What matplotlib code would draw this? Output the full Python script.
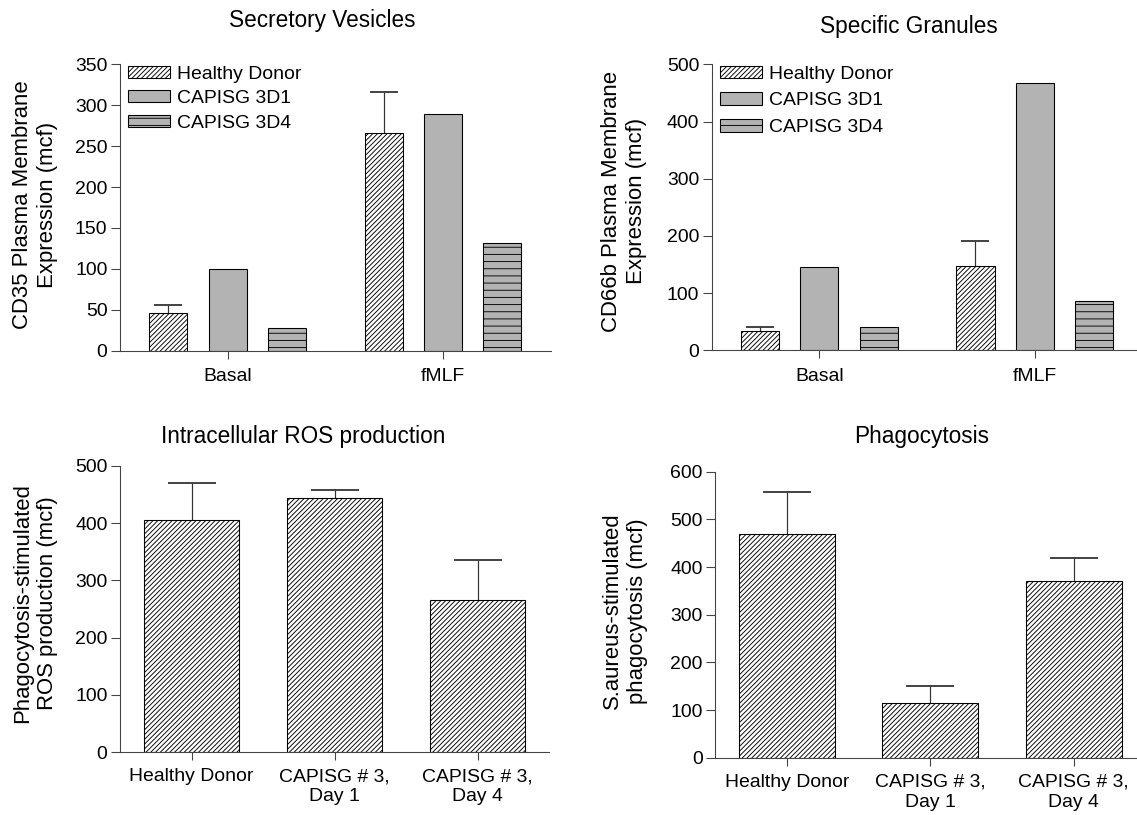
import numpy as np
import matplotlib
matplotlib.use("Agg")
import matplotlib.pyplot as plt

# ---------------- data ----------------
groups_top = ["Basal", "fMLF"]
series_top = ["Healthy Donor", "CAPISG 3D1", "CAPISG 3D4"]

sv_hd = [46, 266]
sv_hd_err = [9.5, 50]
sv_3d1 = [100, 289]
sv_3d4 = [28, 132]

sg_hd = [34, 148]
sg_hd_err = [7.5, 43.5]
sg_3d1 = [146, 468]
sg_3d4 = [40, 87]

groups_bottom = ["Healthy Donor", "CAPISG # 3,\nDay 1", "CAPISG # 3,\nDay 4"]
ros = [406, 444, 265]
ros_err = [63, 13, 71]
phago = [469, 114, 371]
phago_err = [88, 37, 47]

# ---------------- style ----------------
DPI = 86.4
W, H = 1137, 815
plt.rcParams['font.family'] = ['Liberation Sans', 'DejaVu Sans']
plt.rcParams['hatch.linewidth'] = 0.75
GRAY = '#b3b3b3'
SPINE = '#444444'
TICK_FS = 16.2
TITLE_FS = 18.9
YLAB_FS = 18.4

fig = plt.figure(figsize=(W / DPI, H / DPI), dpi=DPI)


def px_axes(left, right, top, bottom):
    return fig.add_axes([left / W, 1 - bottom / H, (right - left) / W, (bottom - top) / H])


def style(ax):
    for s in ['top', 'right']:
        ax.spines[s].set_visible(False)
    for s in ['left', 'bottom']:
        ax.spines[s].set_color(SPINE)
        ax.spines[s].set_linewidth(0.9)
    ax.tick_params(axis='both', direction='out', colors=SPINE, labelcolor='black',
                   labelsize=TICK_FS, width=0.9)
    ax.tick_params(axis='y', length=7.5, pad=3)
    ax.tick_params(axis='x', length=6.5, pad=8)


def err_up(ax, x, y, e, capsize):
    y = np.asarray(y, float)
    e = np.asarray(e, float)
    cont = ax.errorbar(x, y, yerr=[np.zeros_like(e), e], fmt='none', ecolor='#333333',
                       elinewidth=1.0, capsize=capsize, capthick=1.5, zorder=1)
    for cl in cont[1]:
        if np.allclose(cl.get_ydata(), y):
            cl.set_visible(False)


def fig_text(xpx, ypx, s, **kw):
    fig.text(xpx / W, 1 - ypx / H, s, ha='center', va='center', **kw)


def top_panel(ax, hd, hd_err, d1, d4, ymax, step, title, tpos, ylabel, ypos, legend_sp):
    x = np.arange(len(groups_top))
    off, bw = 0.275, 0.177
    ax.bar(x - off, hd, bw, color='white', edgecolor='black', hatch='//////',
           linewidth=0.9, label=series_top[0], zorder=2)
    ax.bar(x, d1, bw, color=GRAY, edgecolor='black', linewidth=0.9,
           label=series_top[1], zorder=2)
    ax.bar(x + off, d4, bw, color=GRAY, edgecolor='black', hatch='--',
           linewidth=0.9, label=series_top[2], zorder=2)
    err_up(ax, x - off, hd, hd_err, 12)
    ax.set_xlim(-0.5, 1.5)
    ax.set_ylim(0, ymax)
    ax.set_yticks(np.arange(0, ymax + 1, step))
    ax.set_xticks(x)
    ax.set_xticklabels(groups_top)
    style(ax)
    ax.legend(loc='upper left', bbox_to_anchor=(0.019, 0.995), frameon=False,
              fontsize=TICK_FS, handlelength=2.15, handleheight=0.6,
              handletextpad=0.36, labelspacing=legend_sp, borderpad=0,
              borderaxespad=0)
    fig_text(tpos[0], tpos[1], title, fontsize=TITLE_FS)
    fig_text(ypos[0], ypos[1], ylabel, fontsize=YLAB_FS, rotation=90,
             multialignment='center', linespacing=1.25)


def bottom_panel(ax, vals, errs, ymax, title, tpos, ylabel, ypos):
    x = np.arange(len(groups_bottom))
    ax.bar(x, vals, 0.67, color='white', edgecolor='black', hatch='//////',
           linewidth=0.9, zorder=2)
    err_up(ax, x, vals, errs, 20)
    ax.set_xlim(-0.5, 2.5)
    ax.set_ylim(0, ymax)
    ax.set_yticks(np.arange(0, ymax + 1, 100))
    ax.set_xticks(x)
    ax.set_xticklabels(groups_bottom, linespacing=1.22)
    style(ax)
    ax.tick_params(axis='x', pad=7)
    fig_text(tpos[0], tpos[1], title, fontsize=TITLE_FS)
    fig_text(ypos[0], ypos[1], ylabel, fontsize=YLAB_FS, rotation=90,
             multialignment='center', linespacing=1.25)


ax1 = px_axes(120, 550.5, 64.3, 350.7)
top_panel(ax1, sv_hd, sv_hd_err, sv_3d1, sv_3d4, 350, 50,
          "Secretory Vesicles", (322, 21),
          "CD35 Plasma Membrane\nExpression (mcf)", (35.5, 205), 0.38)

ax2 = px_axes(711.8, 1142.3, 64.3, 350.3)
top_panel(ax2, sg_hd, sg_hd_err, sg_3d1, sg_3d4, 500, 100,
          "Specific Granules", (909, 26),
          "CD66b Plasma Membrane\nExpression (mcf)", (624, 201), 0.5)

ax3 = px_axes(120, 549, 465.7, 752.3)
bottom_panel(ax3, ros, ros_err, 500, "Intracellular ROS production", (303, 436),
             "Phagocytosis-stimulated\nROS production (mcf)", (35, 603))

ax4 = px_axes(715.3, 1145.2, 471.7, 757.7)
bottom_panel(ax4, phago, phago_err, 600, "Phagocytosis", (922, 436),
             "S.aureus-stimulated\nphagocytosis (mcf)", (625, 611))

fig.savefig("out.png", dpi=DPI)
